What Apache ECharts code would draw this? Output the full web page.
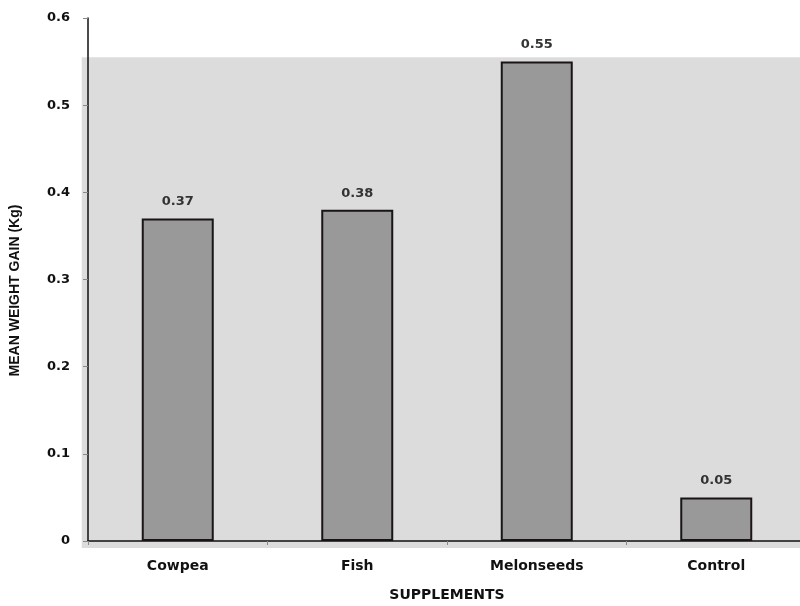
<!DOCTYPE html>
<html><head><meta charset="utf-8">
<script src="https://cdn.jsdelivr.net/npm/echarts@6/dist/echarts.min.js"></script>
<style>html,body{margin:0;padding:0;background:#fff}#c{width:800px;height:606px}</style>
</head><body><div id="c"></div>
<script>
const categories = ['Cowpea', 'Fish', 'Melonseeds', 'Control'];
const values = [0.37, 0.38, 0.55, 0.05];
const valueLabels = ['0.37', '0.38', '0.55', '0.05'];
const yTicks = [0, 0.1, 0.2, 0.3, 0.4, 0.5, 0.6];
const bandTop = 0.555;

const chart = echarts.init(document.getElementById('c'));
const font = 'DejaVu Sans';
chart.setOption({
  animation: false,
  backgroundColor: '#ffffff',
  grid: { left: 88, width: 718, top: 18, bottom: 65, containLabel: false, outerBoundsMode: 'none' },
  xAxis: {
    type: 'category', data: categories,
    name: 'SUPPLEMENTS', nameLocation: 'middle', nameGap: 47,
    nameTextStyle: { fontFamily: font, fontWeight: 'bold', fontSize: 14, color: '#111' },
    axisLine: { lineStyle: { color: '#111', width: 1.5 } },
    axisTick: { show: true, length: 4, lineStyle: { color: '#888' } },
    axisLabel: { fontFamily: font, fontWeight: 'bold', fontSize: 14, color: '#111', margin: 18 }
  },
  yAxis: {
    type: 'value', min: 0, max: 0.6, interval: 0.1,
    name: 'MEAN WEIGHT GAIN (Kg)', nameLocation: 'middle', nameGap: 66, nameRotate: 90,
    nameTextStyle: { fontFamily: 'Liberation Sans', fontWeight: 'bold', fontSize: 14, color: '#111', padding: [0, 0, 0, -22] },
    axisLine: { show: true, lineStyle: { color: '#111', width: 1.5 } },
    axisTick: { show: true, length: 5, lineStyle: { color: '#888' } },
    splitLine: { show: false },
    axisLabel: { fontFamily: font, fontWeight: 'bold', fontSize: 13, color: '#111', margin: 18,
      formatter: v => { const t = yTicks.find(x => Math.abs(x - v) < 1e-9); return t === 0 ? '0' : String(t); } }
  },
  series: [{
    type: 'bar', data: values, barWidth: 72, z: 3,
    itemStyle: { color: '#999999', borderColor: '#1a1416', borderWidth: 2 },
    label: { show: true, position: 'top', distance: 10, fontFamily: font, fontWeight: 'bold', fontSize: 13, color: '#333',
      formatter: p => valueLabels[p.dataIndex] }
  }]
});
const pTop = chart.convertToPixel({ gridIndex: 0 }, [0, bandTop]);
const pZero = chart.convertToPixel({ gridIndex: 0 }, [0, 0]);
const gridLeft = chart.convertToPixel({ xAxisIndex: 0 }, 0) - 90;
chart.setOption({
  graphic: [{
    type: 'rect', z: -10, silent: true,
    shape: { x: gridLeft - 6, y: pTop[1], width: 800 - gridLeft + 6, height: pZero[1] - pTop[1] + 7 },
    style: { fill: '#dcdcdc' }
  }]
});
</script></body></html>
